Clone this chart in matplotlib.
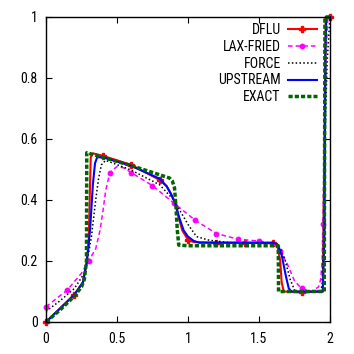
import matplotlib
matplotlib.use("Agg")
import matplotlib.pyplot as plt
from matplotlib import font_manager

names = {f.name for f in font_manager.fontManager.ttflist}
fam = 'Liberation Sans'
for cand in ['Liberation Sans Narrow', 'Arimo Narrow', 'Roboto Condensed', 'Archivo Narrow', 'PT Sans Narrow']:
    if cand in names:
        fam = cand
        break
plt.rcParams['font.family'] = [fam, 'DejaVu Sans']

# ---- data ----
dflu_x = [0, 0.1, 0.2, 0.26, 0.285, 0.3, 0.31, 0.315, 0.33, 0.4, 0.6, 0.8, 0.85, 0.88, 0.91, 0.93,
          0.96, 1.0, 1.04, 1.2, 1.4, 1.6, 1.63, 1.65, 1.66, 1.675, 1.8, 1.95, 1.96, 1.97, 2.0]
dflu_y = [0, 0.045, 0.09, 0.13, 0.19, 0.25, 0.45, 0.54, 0.553, 0.545, 0.515, 0.466, 0.445, 0.42, 0.39, 0.35,
          0.30, 0.27, 0.262, 0.26, 0.26, 0.258, 0.25, 0.2, 0.13, 0.1, 0.097, 0.1, 0.5, 1.0, 1.0]

lax_x = [0, 0.15, 0.25, 0.3, 0.35, 0.38, 0.4, 0.42, 0.45, 0.5, 0.55, 0.6, 0.75, 0.9, 1.05, 1.2, 1.35,
         1.5, 1.6, 1.65, 1.7, 1.75, 1.8, 1.87, 1.92, 1.935, 1.945, 1.95, 1.96, 1.97, 1.985, 2.0]
lax_y = [0.05, 0.105, 0.16, 0.2, 0.24, 0.3, 0.36, 0.43, 0.49, 0.51, 0.505, 0.49, 0.447, 0.39, 0.334, 0.29, 0.272,
         0.265, 0.258, 0.232, 0.19, 0.135, 0.11, 0.1, 0.115, 0.14, 0.2, 0.32, 0.55, 0.85, 1.0, 1.0]

force_x = [0, 0.1, 0.2, 0.27, 0.29, 0.32, 0.35, 0.37, 0.39, 0.42, 0.6, 0.8, 0.9, 0.95, 1.0, 1.06, 1.15,
           1.3, 1.6, 1.64, 1.68, 1.72, 1.75, 1.77, 1.93, 1.945, 1.955, 1.965, 1.98, 2.0]
force_y = [0.035, 0.07, 0.11, 0.16, 0.2, 0.28, 0.4, 0.47, 0.515, 0.53, 0.498, 0.45, 0.40, 0.36, 0.32, 0.28, 0.268,
           0.26, 0.26, 0.25, 0.21, 0.14, 0.105, 0.1, 0.1, 0.12, 0.3, 0.6, 0.85, 1.0]

up_x = [0, 0.1, 0.2, 0.26, 0.285, 0.31, 0.33, 0.345, 0.36, 0.4, 0.6, 0.8, 0.85, 0.88, 0.91, 0.94, 0.97,
        1.0, 1.04, 1.08, 1.6, 1.63, 1.66, 1.69, 1.71, 1.73, 1.95, 1.962, 1.968, 1.975, 2.0]
up_y = [0, 0.045, 0.09, 0.13, 0.19, 0.3, 0.45, 0.52, 0.54, 0.54, 0.512, 0.47, 0.445, 0.42, 0.39, 0.34, 0.30,
        0.28, 0.266, 0.26, 0.26, 0.255, 0.22, 0.15, 0.11, 0.1, 0.1, 0.3, 0.9, 1.0, 1.0]

ex_x = [0, 0.1, 0.2, 0.25, 0.27, 0.285, 0.287, 0.6, 0.87, 0.89, 0.905, 0.915, 0.925, 0.935, 1.0,
        1.636, 1.638, 1.96, 1.965, 2.0]
ex_y = [0, 0.04, 0.085, 0.115, 0.14, 0.2, 0.555, 0.513, 0.472, 0.462, 0.44, 0.38, 0.3, 0.252, 0.25,
        0.25, 0.1, 0.1, 1.0, 1.0]

x_ticks = [0, 0.5, 1, 1.5, 2]
x_labels = ['0', '0.5', '1', '1.5', '2']
y_ticks = [0, 0.2, 0.4, 0.6, 0.8, 1]
y_labels = ['0', '0.2', '0.4', '0.6', '0.8', '1']


def every(xs, step):
    return [i for i, x in enumerate(xs) if abs(x / step - round(x / step)) < 1e-6]


fig = plt.figure(figsize=(3.54, 3.54), dpi=100)
ax = fig.add_axes([0.13, 0.0904, 0.802, 0.8616])

ax.plot(dflu_x, dflu_y, color='#ff0000', lw=1.5, marker='P', ms=4, markevery=every(dflu_x, 0.2),
        label='DFLU', clip_on=False)
ax.plot(lax_x, lax_y, color='#ff00ff', lw=1.1, ls=(0, (3, 2)), marker='o', ms=3.2,
        markevery=every(lax_x, 0.15), label='LAX-FRIED', clip_on=False)
ax.plot(force_x, force_y, color='#000000', lw=1.1, ls=(0, (1, 1.5)), label='FORCE', clip_on=False)
ax.plot(up_x, up_y, color='#0000ff', lw=1.5, label='UPSTREAM', clip_on=False)
ax.plot(ex_x, ex_y, color='#006400', lw=2.5, ls=(0, (1.2, 0.6)), label='EXACT', clip_on=False)

ax.set_xlim(0, 2)
ax.set_ylim(0, 1)
ax.set_xticks(x_ticks)
ax.set_xticklabels(x_labels)
ax.set_yticks(y_ticks)
ax.set_yticklabels(y_labels)
ax.tick_params(direction='in', length=4, width=0.8, top=True, right=True, labelsize=10)
ax.tick_params(axis='x', pad=7)
ax.tick_params(axis='y', pad=6)
for s in ax.spines.values():
    s.set_linewidth(1.0)

leg = ax.legend(loc='upper right', bbox_to_anchor=(0.954, 0.98), frameon=False, markerfirst=False,
                fontsize=10, handlelength=2.1, handletextpad=0.5, labelspacing=0.2,
                borderpad=0, borderaxespad=0)

fig.savefig('out.png', dpi=100)
